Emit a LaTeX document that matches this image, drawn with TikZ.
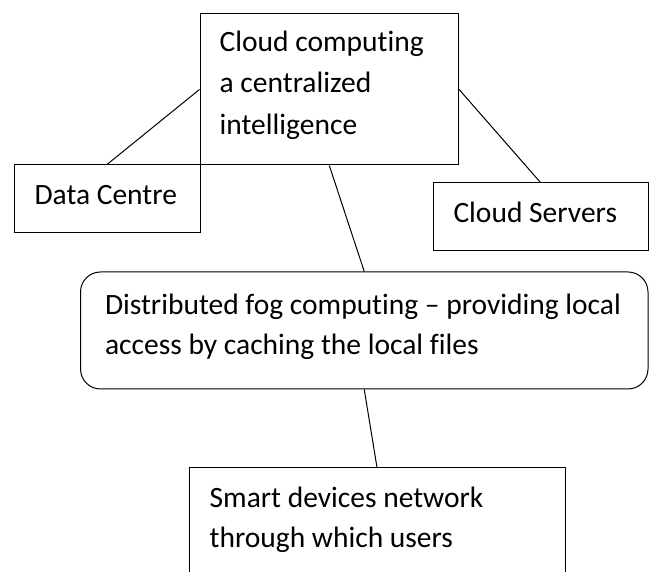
\documentclass[tikz,border=0pt]{standalone}
\usepackage{fontspec}
\setmainfont[RawFeature={-liga}]{Carlito}
\begin{document}
\begin{tikzpicture}[x=1pt,y=1pt,
  box/.style={draw=black,line width=1pt,inner sep=0pt,fill=white},
  fogbox/.style={box,rounded corners=20pt},
  txt/.style={anchor=base west,inner sep=0pt,font=\fontsize{29.5}{41}\selectfont},
  link/.style={draw=black,line width=1pt}]
\clip (0,0) rectangle (649,572);
\fill[white] (0,0) rectangle (649,572);
% boxes
\node[box,minimum width=258.6pt,minimum height=151pt] (top) at (329.3,482.5) {};
\node[box,minimum width=186pt,minimum height=68pt] (dc) at (107,373) {};
\node[box,minimum width=215pt,minimum height=68pt] (cs) at (540.5,355) {};
\node[fogbox,minimum width=567.5pt,minimum height=117pt] (fog) at (364.25,241.5) {};
\node[box,minimum width=376pt,minimum height=130pt] (smart) at (377,39) {};
% connectors
\draw[link] (top.west) -- (dc.north);
\draw[link] (top.east) -- (cs.north);
\draw[link] (top.south) -- (fog.north);
\draw[link] (fog.south) -- (smart.north);
% texts
\node[txt] (topT) at (219.5,520.7) {\vtop{\baselineskip=41.7pt\hbox{Cloud computing}\hbox{a centralized}\hbox{intelligence}}};
\node[txt] (dcT) at (34.3,367) {Data Centre};
\node[txt] (csT) at (453.3,349.7) {Cloud Servers};
\node[txt] (fogT) at (104.8,257.3) {\vtop{\baselineskip=40pt\hbox{Distributed fog computing – providing local}\hbox{access by caching the local files}}};
\node[txt] (smartT) at (209.5,64.7) {\vtop{\baselineskip=40.7pt\hbox{Smart devices network}\hbox{through which users}}};
\end{tikzpicture}
\end{document}
